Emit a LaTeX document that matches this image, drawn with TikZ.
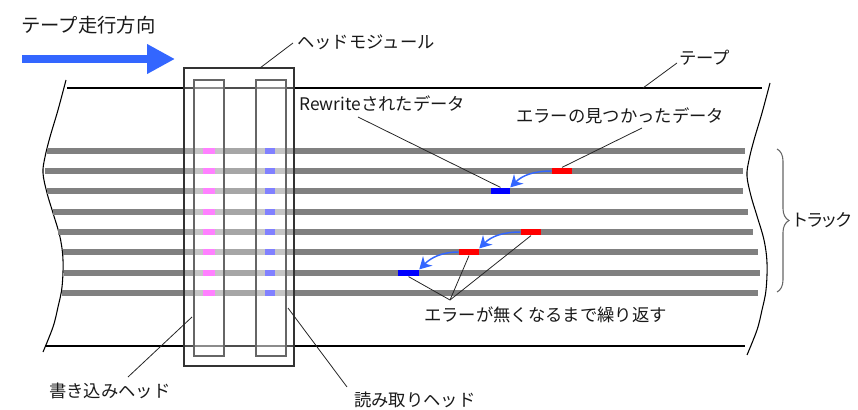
\documentclass[tikz,border=0pt]{standalone}
\usepackage{fontspec}
\setmainfont{Noto Sans CJK JP}
\newfontfamily\palfont{Noto Sans CJK JP}[RawFeature=+palt]
\usetikzlibrary{arrows.meta,decorations.pathreplacing}

\definecolor{dirblue}{RGB}{51,102,255}
\definecolor{trackgray}{RGB}{128,128,128}
\definecolor{writepink}{RGB}{255,128,255}
\definecolor{readblue}{RGB}{128,128,255}

\tikzset{
  lbl/.style={anchor=west, inner sep=0pt, text=black!90, font=\fontsize{13}{15}\selectfont},
  leader/.style={draw=black!85, line width=0.6pt},
  track/.style={trackgray, line width=4.5pt},
  errblk/.style={fill=red, inner sep=0pt, minimum width=15pt, minimum height=5pt},
  rwblk/.style={fill=blue, inner sep=0pt, minimum width=15pt, minimum height=5pt},
  retry/.style={draw=dirblue, line width=1.1pt, -{Stealth[length=9pt,width=10pt]}},
  headbox/.style={draw=black!80, line width=0.8pt, fill=white, fill opacity=0.3},
  headcore/.style={draw=black!60, line width=0.8pt, fill=white, fill opacity=0.35}
}

\newcommand\tapeedge{plot[smooth,tension=0.6] coordinates
  {(66,80) (58,110) (50,137) (45,157) (43,173) (47,193) (53,213) (60,237)
   (63,260) (62,287) (58,307) (53,327) (43,352)}}

\begin{document}
\begin{tikzpicture}[x=0.75pt, y=-0.75pt]
    \useasboundingbox (0,0) rectangle (858,410);

    % Direction of tape travel
    \node[lbl, font=\fontsize{14.5}{17}\selectfont] (dirlbl) at (21,25) {テープ走行方向};
    \coordinate (dirtail) at (22,59);
    \coordinate (dirhead) at (175,59);
    \draw[dirblue, line width=6pt, -{Triangle[length=21pt,width=21pt]}] (dirtail) -- (dirhead);

    % Tape
    \draw[line width=0.8pt] (67,88) -- (762,88);
    \draw[line width=0.8pt] (45,346) -- (745,346);
    \draw[line width=0.8pt] \tapeedge;
    \draw[line width=0.8pt, shift={(704,3)}] \tapeedge;

    % Tracks
    \foreach \y/\xa/\xb in {151/47/745, 171/45/743, 191/47/743, 212/53/748,
                            232/58/753, 252/63/758, 273/64/760, 293/62/758}
        \draw[track] (\xa,\y) -- (\xb,\y);

    % Head module
    \draw[headbox] (184,68) rectangle (294,366);
    \draw[headcore] (194,80) rectangle (224,356);
    \draw[headcore] (256,80) rectangle (286,356);

    % Write and read marks
    \foreach \y in {151,171,191,212,232,252,273,293} {
        \fill[writepink] (203,{\y-3}) rectangle (215,{\y+3});
        \fill[readblue] (265,{\y-3}) rectangle (275,{\y+3});
    }

    % Data blocks
    \node[errblk] (err1) at (562,171) {};
    \node[rwblk, minimum width=14.25pt] (rw1) at (500.5,191) {};
    \node[errblk] (err2) at (531,232) {};
    \node[errblk] (err3) at (469,252) {};
    \node[rwblk, minimum width=15.75pt] (rw2) at (408.5,273) {};

    % Rewrite arrows
    \draw[retry] (err1.west) to[out=180, in=45] (rw1.north east);
    \draw[retry] (err2.west) to[out=180, in=45] (err3.north east);
    \draw[retry] (err3.west) to[out=180, in=45] (rw2.north east);

    % Labels
    \node[lbl] (modlbl) at (297,42) {ヘッドモジュール};
    \node[lbl] (tapelbl) at (679,58) {テープ};
    \node[lbl] (rwlbl) at (299,104) {Rewriteされたデータ};
    \node[lbl] (errlbl) at (516,116) {エラーの見つかったデータ};
    \node[lbl, font=\palfont\fontsize{13}{15}\selectfont] (tracklbl) at (794,220) {トラック};
    \node[lbl] (looplbl) at (424,315) {エラーが無くなるまで繰り返す};
    \node[lbl] (wlbl) at (49,391) {書き込みヘッド};
    \node[lbl] (rlbl) at (354,400) {読み取りヘッド};

    % Leaders
    \coordinate (modtail) at (293,43);
    \coordinate (modpin) at (260,68);
    \draw[leader] (modtail) -- (modpin);
    \coordinate (tapetail) at (677,63);
    \coordinate (tapepin) at (643,88);
    \draw[leader] (tapetail) -- (tapepin);
    \coordinate (rwtail) at (358,117);
    \draw[leader] (rwtail) -- (rw1.north);
    \coordinate (errtail) at (642,128);
    \draw[leader] (errtail) -- (err1.north);
    \coordinate (looptail) at (450,300);
    \draw[leader] (looptail) -- (rw2.south);
    \draw[leader] (looptail) -- (err3.south);
    \draw[leader] (looptail) -- (err2.south);
    \coordinate (wpin) at (192,317);
    \coordinate (wtail) at (128,377);
    \draw[leader] (wpin) -- (wtail);
    \coordinate (rpin) at (288,308);
    \coordinate (rtail) at (347,387);
    \draw[leader] (rpin) -- (rtail);

    % Track brace
    \draw[black!60, line width=0.8pt, decorate, decoration={brace, amplitude=9pt}]
        (777,149) -- (777,292);
\end{tikzpicture}
\end{document}
